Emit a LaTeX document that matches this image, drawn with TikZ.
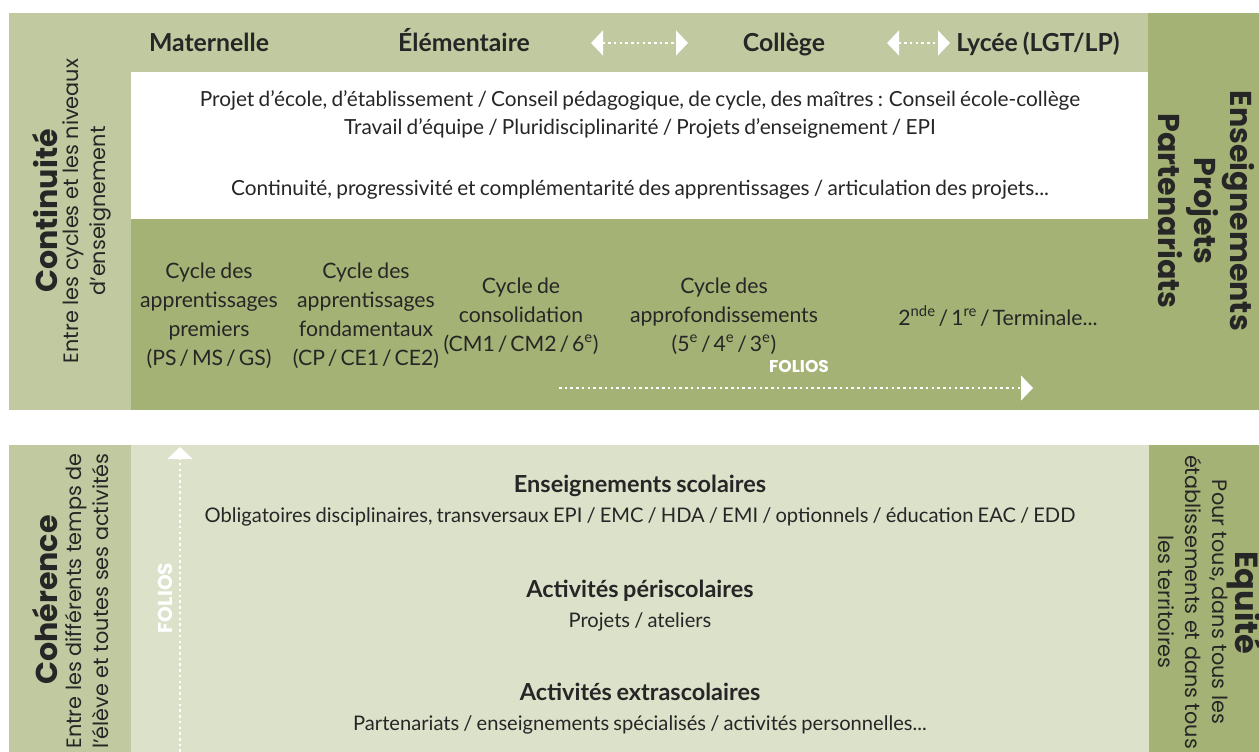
\documentclass[tikz,border=0pt]{standalone}
\usepackage{fontspec}
\setmainfont{Lato}[WordSpace=0.8]
\newfontfamily\geo{Poppins}
\usetikzlibrary{arrows.meta}
\definecolor{olivelight}{RGB}{192,201,160}
\definecolor{olivedark}{RGB}{164,178,117}
\definecolor{olivepale}{RGB}{220,225,201}
\definecolor{ink}{RGB}{38,38,38}
\newcommand{\nsl}{\hspace{0.14em}/\hspace{0.14em}}
\tikzset{
  txt/.style={text=ink, inner sep=0pt, align=center},
  bodyf/.style={font=\fontsize{15.6}{21}\selectfont},
  lowf/.style={font=\fontsize{15.1}{21}\selectfont},
  cyclef/.style={font=\fontsize{15.9}{21.75}\selectfont},
  headf/.style={font=\bfseries\fontsize{18.6}{21}\selectfont},
  boldf/.style={font=\bfseries\fontsize{17.6}{21}\selectfont},
  sidetitle/.style={font=\geo\bfseries\fontsize{22.6}{27}\selectfont},
  sidesub/.style={font=\geo\fontsize{15.6}{20.25}\selectfont},
  folio/.style={text=white, inner sep=0pt, font=\geo\bfseries\fontsize{12.8}{14}\selectfont},
  dots/.style={white, line width=1.9pt, dash pattern=on 1.9pt off 2.4pt},
  tipboth/.style={{Triangle[length=9pt,width=18.5pt]}-{Triangle[length=9pt,width=18.5pt]}},
  tipone/.style={-{Triangle[length=9pt,width=18.5pt]}},
}
\begin{document}
\begin{tikzpicture}[x=0.75pt,y=-0.75pt]
\useasboundingbox (0,0) rectangle (1259,752);
\clip (0,0) rectangle (1259,752);
% ---------- top panel ----------
\fill[olivelight] (9,13) rectangle (1148,410);
\fill[olivedark] (1148,13) rectangle (1259,410);
\fill[white] (131,72) rectangle (1148,219);
\fill[olivedark] (131,219) rectangle (1148,410);
% ---------- bottom panel ----------
\fill[olivelight] (9,445) rectangle (131,752);
\fill[olivepale] (131,445) rectangle (1149,752);
\fill[olivedark] (1149,445) rectangle (1259,752);

% header
\node[txt,headf,anchor=base] (mat) at (209,52) {Maternelle};
\node[txt,headf,anchor=base] (elem) at (464,52) {Élémentaire};
\node[txt,headf,anchor=base] (col) at (784,52) {Collège};
\node[txt,headf,anchor=base] (lyc) at (1038,52) {Lycée (LGT/LP)};
\coordinate (a1l) at (591,43);
\coordinate (a1r) at (688,43);
\coordinate (a2l) at (887,43);
\coordinate (a2r) at (950,43);
\draw[dots,tipboth] (a1l) -- (a1r);
\draw[dots,tipboth] (a2l) -- (a2r);

% white box
\node[txt,bodyf,anchor=base] (w1) at (640,107) {Projet d’école, d’établissement / Conseil pédagogique, de cycle, des maîtres : Conseil école-collège};
\node[txt,bodyf,anchor=base] (w2) at (640,135) {Travail d’équipe / Pluridisciplinarité / Projets d’enseignement / EPI};
\node[txt,bodyf,anchor=base] (w3) at (640,196) {Continuité, progressivité et complémentarité des apprentissages / articulation des projets...};

% cycles
\node[txt,cyclef] (c1) at (209,316) {Cycle des\\apprentissages\\premiers\\(PS\nsl MS\nsl GS)};
\node[txt,cyclef] (c2) at (366,316) {Cycle des\\apprentissages\\fondamentaux\\(CP\nsl CE1\nsl CE2)};
\node[txt,cyclef] (c3) at (521,316) {Cycle de\\consolidation\\(CM1\nsl CM2\nsl 6\textsuperscript{e})};
\node[txt,cyclef] (c4) at (724,316) {Cycle des\\approfondissements\\(5\textsuperscript{e}\nsl 4\textsuperscript{e}\nsl 3\textsuperscript{e})};
\node[txt,cyclef] (c5) at (998,316) {2\textsuperscript{nde}\nsl 1\textsuperscript{re}\nsl Terminale...};
\node[folio] (fh) at (799,366) {FOLIOS};
\coordinate (fhs) at (559,388);
\coordinate (fhe) at (1033,388);
\draw[dots,tipone] (fhs) -- (fhe);

% left top
\node[txt,sidetitle,rotate=90] (cont) at (45,211) {Continuité};
\node[txt,sidesub,rotate=90] (contsub) at (87,211) {Entre les cycles et les niveaux\\d’enseignement};
% right top
\node[txt,sidetitle,rotate=-90] (epp) at (1206,211) {Enseignements\\Projets\\Partenariats};

% bottom left
\node[txt,sidetitle,rotate=90] (coh) at (45,600) {Cohérence};
\node[txt,sidesub,rotate=90] (cohsub) at (87,601) {Entre les différents temps de\\l’élève et toutes ses activités};
\node[folio,rotate=90,font=\geo\bfseries\fontsize{15}{16}\selectfont] (fv) at (165,598) {FOLIOS};
\coordinate (fvs) at (180,752);
\coordinate (fve) at (180,447);
\draw[dots,tipone] (fvs) -- (fve);

% bottom middle
\node[txt,boldf,anchor=base] (es) at (640,492) {Enseignements scolaires};
\node[txt,lowf,anchor=base] (esd) at (640,522) {Obligatoires disciplinaires, transversaux EPI / EMC / HDA / EMI / optionnels / éducation EAC / EDD};
\node[txt,boldf,anchor=base] (ap) at (640,597) {Activités périscolaires};
\node[txt,lowf,anchor=base] (apd) at (640,627) {Projets / ateliers};
\node[txt,boldf,anchor=base] (ae) at (640,700) {Activités extrascolaires};
\node[txt,lowf,anchor=base] (aed) at (640,730) {Partenariats / enseignements spécialisés / activités personnelles...};

% bottom right
\node[txt,sidetitle,rotate=-90,font=\geo\bfseries\fontsize{24}{27}\selectfont] (eq) at (1245,603) {Equité};
\node[txt,sidesub,rotate=-90] (eqsub) at (1193,602) {Pour tous, dans tous les\\établissements et dans tous\\les territoires};
\end{tikzpicture}
\end{document}
